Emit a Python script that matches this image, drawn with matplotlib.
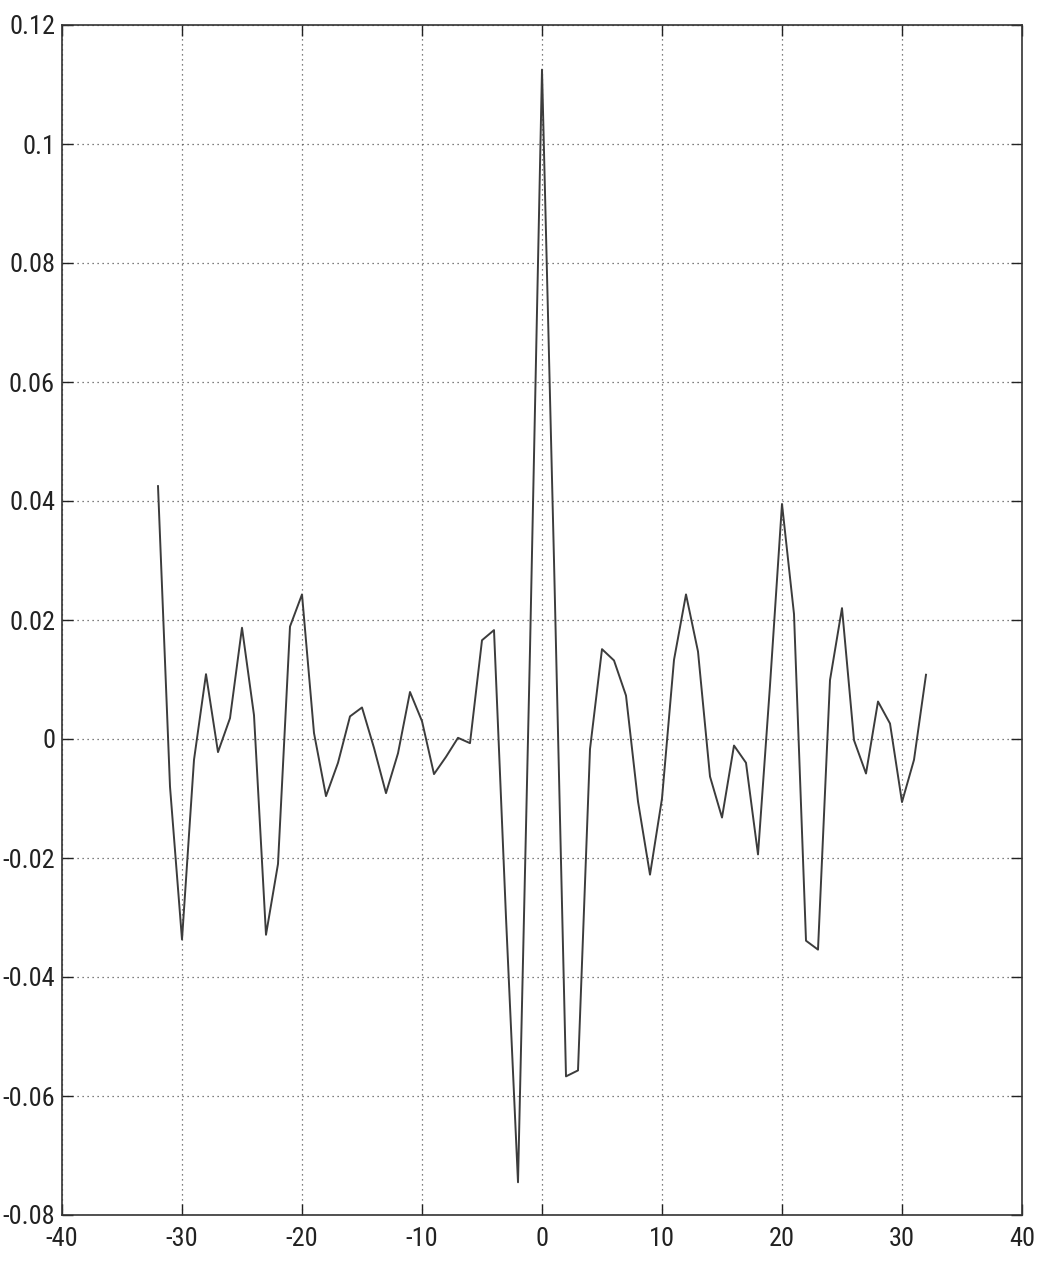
import matplotlib
matplotlib.use("Agg")
import matplotlib.pyplot as plt
from matplotlib import font_manager

lags = list(range(-32, 33))
values = [
    0.0425, -0.008, -0.0337, -0.0035, 0.0109, -0.0022, 0.0035, 0.0187,   # -32..-25
    0.004, -0.0329, -0.021, 0.0189, 0.0243, 0.001, -0.0096, -0.004,      # -24..-17
    0.0038, 0.0053, -0.0015, -0.0091, -0.0024, 0.0079, 0.003, -0.0059,   # -16..-9
    -0.003, 0.0002, -0.0007, 0.0166, 0.0183, -0.03, -0.0745, 0.015,      # -8..-1
    0.1125,                                                              # 0
    0.03, -0.0567, -0.0557, -0.0017, 0.0151, 0.0132, 0.0073, -0.0105,    # 1..8
    -0.0228, -0.01, 0.0133, 0.0243, 0.0147, -0.0063, -0.0132, -0.0011,   # 9..16
    -0.004, -0.0194, 0.009, 0.0395, 0.021, -0.0339, -0.0354, 0.0099,     # 17..24
    0.022, -0.0002, -0.0058, 0.0063, 0.0026, -0.0106, -0.0035, 0.0108,   # 25..32
]

xticks = [-40, -30, -20, -10, 0, 10, 20, 30, 40]
xticklabels = ["-40", "-30", "-20", "-10", "0", "10", "20", "30", "40"]
yticks = [-0.08, -0.06, -0.04, -0.02, 0.0, 0.02, 0.04, 0.06, 0.08, 0.1, 0.12]
yticklabels = ["-0.08", "-0.06", "-0.04", "-0.02", "0", "0.02", "0.04", "0.06", "0.08", "0.1", "0.12"]

names = {f.name for f in font_manager.fontManager.ttflist}
fam = ["Liberation Sans", "DejaVu Sans"]
size = 16
for cand in ["Roboto Condensed", "Liberation Sans Narrow", "Open Sans Condensed", "DejaVu Sans Condensed"]:
    if cand in names:
        fam = [cand, "DejaVu Sans"]
        size = 19
        break
plt.rcParams["font.family"] = fam

fig = plt.figure(figsize=(10.5, 12.67), dpi=100)
ax = fig.add_axes([62/1050, 1 - 1215/1267, (1022-62)/1050, (1215-25)/1267])

ax.plot(lags, values, color="#3c3c3c", linewidth=1.4)

ax.set_xlim(-40, 40)
ax.set_ylim(-0.08, 0.12)
ax.set_xticks(xticks)
ax.set_xticklabels(xticklabels)
ax.set_yticks(yticks)
ax.set_yticklabels(yticklabels)
ax.grid(True, linestyle=(0, (1, 3)), color="#555555", linewidth=0.9)
ax.tick_params(direction="in", length=8, top=True, right=True, labelsize=size,
               colors="#222222", width=1.0)
ax.tick_params(axis="y", pad=5)
ax.tick_params(axis="x", pad=9)
for s in ax.spines.values():
    s.set_color("#333333")
    s.set_linewidth(1.2)

fig.savefig("out.png", dpi=100, facecolor="white")
